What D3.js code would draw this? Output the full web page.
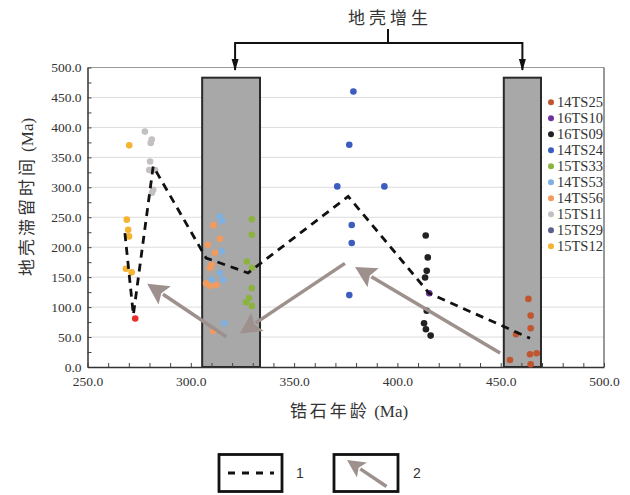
<!DOCTYPE html>
<html>
<head>
<meta charset="utf-8">
<script src="https://cdn.jsdelivr.net/npm/d3@7"></script>
<style>
  body { margin: 0; background: #fff; }
  svg { display: block; }
  .tick text { font-family: "Liberation Serif", "Times New Roman", serif; font-size: 13.5px; fill: #333; }
</style>
</head>
<body>
<div id="vis"></div>
<script>
// series: [zircon age (Ma), crustal residence time (Ma)]
const s14TS25 = [[463.4,113.7],[464.5,85.8],[464.5,64.7],[457.4,54.7],[454.5,11.7],[464.2,21.2],[467.4,22.9],[464.5,4.5]];
const s16TS10 = [[415.4,123]];
const s16TS09 = [[413.7,219.6],[414.7,183],[414.2,160.5],[413.4,149.4],[414.2,94],[412.9,73],[413.8,63],[416.1,52.4]];
const s14TS24 = [[378.7,460],[376.7,371],[370.9,301.5],[393.7,301.5],[377.9,237],[377.9,207],[376.7,120]];
const s15TS33 = [[329.5,246.7],[329.5,220.7],[327.1,176],[329.6,165.6],[329.5,131.6],[328.2,115],[326.7,108],[329.6,102]];
const s14TS53 = [[314.1,251],[315.2,244],[315,193],[314.1,157],[310.1,145.5],[315.7,145.5],[316.2,73]];
const s14TS56 = [[310.9,236.6],[314.1,214],[308.2,204],[311.7,190.6],[310.1,170.6],[309.3,165.6],[307.4,139.6],[309.3,135.5],[312.4,137],[310.9,60]];
const s15TS11 = [[277.8,393],[281.1,379.6],[280.6,374],[280.3,343],[279.9,329],[282.7,329],[281.8,296],[281.2,291]];
const s15TS29 = [];
const s15TS12 = [[270.2,370],[269,246],[269.7,229],[270.1,218],[268.6,164],[271.4,158]];
const sRed = [[273.1,81]];

const legendNames = ["14TS25","16TS10","16TS09","14TS24","15TS33","14TS53","14TS56","15TS11","15TS29","15TS12"];
const legendColors = ["#c0562f","#7030a0","#222222","#3d5cbf","#8cb33e","#7fb0e0","#f39a5e","#c4c0c0","#5a5f8c","#f5b330"];
const seriesData = [s14TS25, s16TS10, s16TS09, s14TS24, s15TS33, s14TS53, s14TS56, s15TS11, s15TS29, s15TS12];

// crustal growth periods (gray bands)
const bandStart = [305.5, 451.5];
const bandEnd = [333.5, 469.5];
const bandTop = 483;

// trend line (1)
const trendAges = [268.1, 272.2, 281.8, 307.4, 327.7, 376.2, 415.4, 464.2];
const trendTimes = [223.6, 87, 335, 182, 157, 284.8, 123, 48];

// arrows (2): tail -> tip
const arrowTails = [[317.2,50.6],[374.6,173],[449.7,23.4]];
const arrowTips = [[278.9,139],[323.8,56],[379.5,167]];

const xTicks = d3.range(250, 501, 50);
const yTicks = d3.range(0, 501, 50);

const W = 630, H = 495;
const svg = d3.select("#vis").append("svg").attr("width", W).attr("height", H);

const x = d3.scaleLinear().domain([250, 500]).range([87.5, 604]);
const y = d3.scaleLinear().domain([0, 500]).range([367, 67.5]);

const arrowColor = "#9d908d";
const cjk = "'Noto Sans CJK SC', sans-serif";
const serif = "'Liberation Serif', 'Times New Roman', serif";

// gridlines
svg.append("g").selectAll("line").data(yTicks.slice(1)).enter().append("line")
  .attr("x1", x(250)).attr("x2", x(500))
  .attr("y1", d => y(d)).attr("y2", d => y(d))
  .attr("stroke", d => d === 500 ? "#999" : "#dcdcdc").attr("stroke-width", 1);

// right border
svg.append("line").attr("x1", x(500)).attr("x2", x(500)).attr("y1", y(500)).attr("y2", y(0))
  .attr("stroke", "#555").attr("stroke-width", 1.2);

// bands
svg.append("g").selectAll("rect").data(bandStart).enter().append("rect")
  .attr("x", (d, i) => x(d))
  .attr("width", (d, i) => x(bandEnd[i]) - x(d))
  .attr("y", y(bandTop))
  .attr("height", y(0) - y(bandTop))
  .attr("fill", "#a8a8a8").attr("stroke", "#2a2a2a").attr("stroke-width", 2);

// axes
const yMinor = svg.append("g").attr("transform", `translate(${x(250)},0)`)
  .call(d3.axisLeft(y).tickValues(d3.range(0, 501, 25)).tickSize(-4).tickFormat("").tickSizeOuter(0));
const yLab = svg.append("g").attr("transform", `translate(${x(250)},0)`)
  .call(d3.axisLeft(y).tickValues(yTicks).tickSize(0).tickPadding(6).tickFormat(d3.format(".1f")));
yLab.select(".domain").remove();
const xMinor = svg.append("g").attr("transform", `translate(0,${y(0)})`)
  .call(d3.axisBottom(x).tickValues(d3.range(250, 501, 10)).tickSize(-4).tickFormat("").tickSizeOuter(0));
const xLab = svg.append("g").attr("transform", `translate(0,${y(0)})`)
  .call(d3.axisBottom(x).tickValues(xTicks).tickSize(0).tickPadding(9).tickFormat(d3.format(".1f")));
xLab.select(".domain").remove();
[yMinor, xMinor].forEach(g => {
  g.select(".domain").attr("stroke", "#333").attr("stroke-width", 1.5);
  g.selectAll(".tick line").attr("stroke", "#444");
});

// points
seriesData.forEach((pts, i) => {
  svg.append("g").selectAll("circle").data(pts).enter().append("circle")
    .attr("cx", d => x(d[0])).attr("cy", d => y(d[1])).attr("r", 3.3)
    .attr("fill", legendColors[i]);
});
svg.append("g").selectAll("circle").data(sRed).enter().append("circle")
  .attr("cx", d => x(d[0])).attr("cy", d => y(d[1])).attr("r", 3.3).attr("fill", "#e8302a");

// trend line
const line = d3.line().x(d => x(d[0])).y(d => y(d[1]));
svg.append("path").datum(trendAges.map((a, i) => [a, trendTimes[i]]))
  .attr("d", line).attr("fill", "none").attr("stroke", "#111")
  .attr("stroke-width", 2.8).attr("stroke-dasharray", "8,6");

// arrows
function drawArrow(g, x1, y1, x2, y2, headLen, headHalf, width) {
  const dx = x2 - x1, dy = y2 - y1, L = Math.hypot(dx, dy);
  const ux = dx / L, uy = dy / L;
  const bx = x2 - ux * headLen, by = y2 - uy * headLen;
  g.append("line").attr("x1", x1).attr("y1", y1).attr("x2", bx + ux * 2).attr("y2", by + uy * 2)
    .attr("stroke", arrowColor).attr("stroke-width", width);
  g.append("path")
    .attr("d", `M${x2},${y2}L${bx - uy * headHalf},${by + ux * headHalf}L${bx + ux * 4},${by + uy * 4}L${bx + uy * headHalf},${by - ux * headHalf}Z`)
    .attr("fill", arrowColor);
}
arrowTails.forEach((t, i) => {
  drawArrow(svg, x(t[0]), y(t[1]), x(arrowTips[i][0]), y(arrowTips[i][1]), 21, 11, 3.5);
});

// legend (text clipped at the right edge as in the original)
svg.append("clipPath").attr("id", "legClip").append("rect")
  .attr("x", 543).attr("y", 88).attr("width", 60).attr("height", 190);
const leg = svg.append("g").attr("clip-path", "url(#legClip)");
leg.append("rect").attr("x", 543).attr("y", 88).attr("width", 60).attr("height", 189).attr("fill", "#fff");
legendNames.forEach((n, i) => {
  const ly = 102.3 + i * 16;
  leg.append("circle").attr("cx", 551).attr("cy", ly).attr("r", 3).attr("fill", legendColors[i]);
  leg.append("text").attr("x", 557).attr("y", ly).attr("dy", "0.35em")
    .style("font-family", serif).style("font-size", "14.5px")
    .attr("fill", "#333").text(n);
});

// axis titles: CJK part spaced out, unit in serif
function title(sel, cn, spacing) {
  sel.append("tspan").style("font-family", cjk).style("letter-spacing", spacing + "px").text(cn);
  sel.append("tspan").style("font-family", serif).text(" (Ma)");
}
const yTitle = svg.append("text").attr("transform", "translate(27,197) rotate(-90)")
  .attr("text-anchor", "middle").attr("dy", "0.35em")
  .style("font-size", "17px").attr("fill", "#333");
title(yTitle, "地壳滞留时间", 3);
const xTitle = svg.append("text").attr("x", 349).attr("y", 411).attr("dy", "0.35em")
  .attr("text-anchor", "middle").style("font-size", "17px").attr("fill", "#333");
title(xTitle, "锆石年龄", 3);

// top annotation: crustal growth
const bx1 = (x(bandStart[0]) + x(bandEnd[0])) / 2 + 4, bx2 = (x(bandStart[1]) + x(bandEnd[1])) / 2;
svg.append("text").attr("x", 390).attr("y", 18).attr("dy", "0.35em").attr("text-anchor", "middle")
  .style("font-family", cjk).style("font-size", "17px").style("letter-spacing", "4px").attr("fill", "#333")
  .text("地壳增生");
svg.append("path").attr("d", `M388,29V43M${bx1},70V43H${bx2}V70`)
  .attr("fill", "none").attr("stroke", "#111").attr("stroke-width", 2);
[bx1, bx2].forEach(cx => {
  svg.append("path").attr("d", `M${cx - 3.5},59L${cx + 3.5},59L${cx},71Z`).attr("fill", "#111");
});

// bottom key
svg.append("rect").attr("x", 219).attr("y", 454.5).attr("width", 63).attr("height", 37)
  .attr("fill", "none").attr("stroke", "#111").attr("stroke-width", 2.8);
svg.append("line").attr("x1", 228).attr("x2", 274).attr("y1", 473).attr("y2", 473)
  .attr("stroke", "#111").attr("stroke-width", 2.8).attr("stroke-dasharray", "7,7");
svg.append("text").attr("x", 296).attr("y", 473).attr("dy", "0.35em")
  .style("font-family", "'Liberation Sans', Arial, sans-serif").style("font-size", "14px").attr("fill", "#333").text("1");
svg.append("rect").attr("x", 334).attr("y", 454.5).attr("width", 64).attr("height", 37)
  .attr("fill", "none").attr("stroke", "#111").attr("stroke-width", 2.8);
drawArrow(svg, 386.5, 486.5, 347, 460, 18, 9, 3.5);
svg.append("text").attr("x", 413).attr("y", 473).attr("dy", "0.35em")
  .style("font-family", "'Liberation Sans', Arial, sans-serif").style("font-size", "14px").attr("fill", "#333").text("2");
</script>
</body>
</html>
